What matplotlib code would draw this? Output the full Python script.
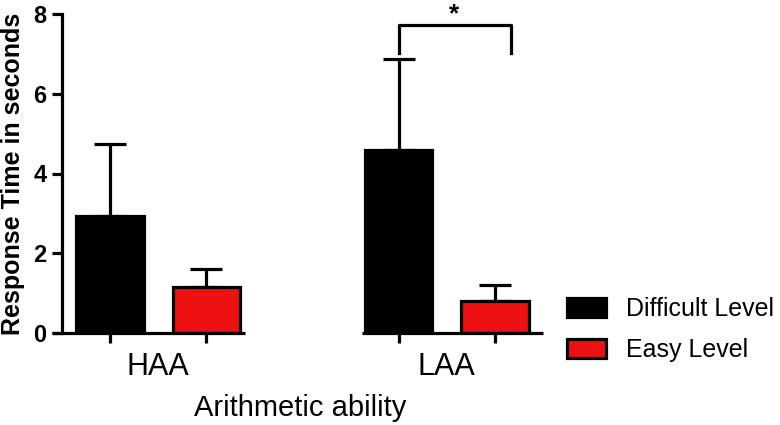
import matplotlib.pyplot as plt
from matplotlib.patches import Patch

plt.rcParams['font.family'] = ['Liberation Sans', 'DejaVu Sans']

# data
groups = ['HAA', 'LAA']
levels = ['Difficult Level', 'Easy Level']
difficult_mean = [2.93, 4.59]
difficult_err = [1.81, 2.28]
easy_mean = [1.15, 0.81]
easy_err = [0.45, 0.39]
colors = ['black', '#EE1111']

fig = plt.figure(figsize=(7.8, 4.25), dpi=100)
ax = fig.add_axes([62 / 780, 92 / 425, 481 / 780, 319 / 425])

lw = 2.3
pos_d = [0, 3]
pos_e = [1, 4]
ax.bar(pos_d, difficult_mean, width=0.7, color=colors[0], edgecolor='black', linewidth=lw, zorder=3)
ax.bar(pos_e, easy_mean, width=0.7, color=colors[1], edgecolor='black', linewidth=lw, zorder=3)
ax.errorbar(pos_d, difficult_mean, yerr=[[0, 0], difficult_err], fmt='none', ecolor='black',
            elinewidth=lw, capsize=11.5, capthick=lw, zorder=2)
ax.errorbar(pos_e, easy_mean, yerr=[[0, 0], easy_err], fmt='none', ecolor='black',
            elinewidth=lw, capsize=11.5, capthick=lw, zorder=2)

ax.set_xlim(-0.5, 4.5)
ax.set_ylim(0, 8)

for s in ['top', 'right', 'bottom']:
    ax.spines[s].set_visible(False)
ax.spines['left'].set_linewidth(lw)

# broken x axis segments
ax.plot([-0.6, 1.4], [0, 0], color='black', lw=lw, clip_on=False, solid_capstyle='butt', zorder=4)
ax.plot([2.62, 4.5], [0, 0], color='black', lw=lw, clip_on=False, solid_capstyle='butt', zorder=4)

ax.set_yticks([0, 2, 4, 6, 8])
ax.tick_params(axis='y', length=7.2, width=lw, labelsize=17, pad=4)
for t in ax.get_yticklabels():
    t.set_fontweight('bold')

ax.set_xticks(pos_d + pos_e)
ax.set_xticklabels([])
ax.set_xticks([0.5, 3.5], minor=True)
ax.set_xticklabels(groups, minor=True, fontsize=22)
ax.tick_params(axis='x', which='major', length=7.2, width=lw)
ax.tick_params(axis='x', which='minor', length=0, pad=14)

ax.set_xlabel('Arithmetic ability', fontsize=21, labelpad=8, x=0.495)
ax.set_ylabel('Response Time in seconds', fontsize=18, fontweight='bold', labelpad=6)

# significance bracket
ax.plot([3, 3, 4.17, 4.17], [7.02, 7.72, 7.72, 7.02], color='black', lw=lw, clip_on=False)
ax.text(3.58, 8.0, '*', ha='center', va='center', fontsize=19, fontweight='bold', clip_on=False)

handles = [Patch(facecolor=c, edgecolor='black', linewidth=lw) for c in colors]
fig.legend(handles, levels, loc='upper left', bbox_to_anchor=(567 / 780, 1 - 297 / 425),
           frameon=False, fontsize=18, handlelength=1.55, handleheight=0.8,
           handletextpad=0.8, labelspacing=0.7, borderpad=0, borderaxespad=0)

fig.savefig('out.png', dpi=100)
